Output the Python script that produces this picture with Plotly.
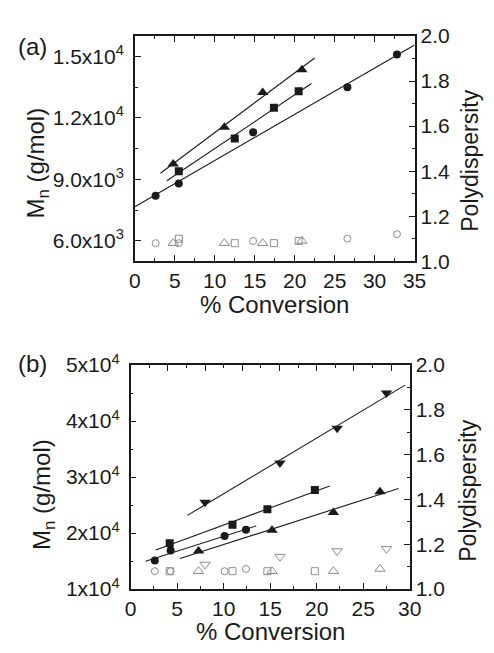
import numpy as np
import plotly.graph_objects as go

# ---------------- Panel (a) data ----------------
a_circ_x = [2.6, 5.5, 14.8, 26.6, 32.8]
a_circ_mn = [8200, 8800, 11300, 13500, 15100]
a_circ_pdi = [1.08, 1.08, 1.09, 1.10, 1.12]
a_circ_fit = [0, 35]

a_sq_x = [5.5, 12.5, 17.4, 20.5]
a_sq_mn = [9400, 11000, 12500, 13300]
a_sq_pdi = [1.10, 1.08, 1.08, 1.09]
a_sq_fit = [4.0, 22.1]

a_tri_x = [4.8, 11.2, 16.0, 20.9]
a_tri_mn = [9750, 11550, 13250, 14350]
a_tri_pdi = [1.08, 1.08, 1.08, 1.09]
a_tri_fit = [3.2, 22.5]

a_ytick_vals = [6000, 9000, 12000, 15000]
a_ytick_text = ["6.0x10<sup>3</sup>", "9.0x10<sup>3</sup>", "1.2x10<sup>4</sup>", "1.5x10<sup>4</sup>"]

# ---------------- Panel (b) data ----------------
b_circ_x = [2.6, 4.3, 10.1, 12.4]
b_circ_mn = [15100, 16900, 19500, 20600]
b_circ_pdi = [1.08, 1.08, 1.08, 1.09]
b_circ_fit = [1.6, 13.5]

b_sq_x = [4.2, 10.95, 14.7, 19.8]
b_sq_mn = [18200, 21500, 24250, 27700]
b_sq_pdi = [1.08, 1.08, 1.08, 1.08]
b_sq_fit = [2.7, 21.4]

b_tri_x = [7.3, 15.2, 21.8, 26.8]
b_tri_mn = [16800, 20500, 23700, 27400]
b_tri_pdi = [1.08, 1.08, 1.08, 1.09]
b_tri_fit = [5.3, 28.8]

b_itri_x = [8.0, 16.05, 22.2, 27.5]
b_itri_mn = [25500, 32500, 38700, 45000]
b_itri_pdi = [1.11, 1.145, 1.17, 1.18]
b_itri_fit = [6.1, 29.5]

b_ytick_vals = [10000, 20000, 30000, 40000, 50000]
b_ytick_text = ["1x10<sup>4</sup>", "2x10<sup>4</sup>", "3x10<sup>4</sup>", "4x10<sup>4</sup>", "5x10<sup>4</sup>"]

pdi_tick_vals = [1.0, 1.2, 1.4, 1.6, 1.8, 2.0]
pdi_tick_text = ["1.0", "1.2", "1.4", "1.6", "1.8", "2.0"]

FONT = "Liberation Sans, Arial, Helvetica, sans-serif"
INK = "#1a1a1a"
OPEN = "#8c8c8c"

fig = go.Figure()


def add_series(x, mn, pdi, fit, sym, size, xa, ymn, ypdi):
    coef = np.polyfit(x, mn, 1)
    fx = np.array(fit, dtype=float)
    fig.add_trace(go.Scatter(x=fx, y=np.polyval(coef, fx), mode="lines",
                             line=dict(color=INK, width=1.1), xaxis=xa, yaxis=ymn,
                             showlegend=False, hoverinfo="skip"))
    fig.add_trace(go.Scatter(x=x, y=mn, mode="markers", xaxis=xa, yaxis=ymn,
                             marker=dict(symbol=sym, size=size, color=INK,
                                         line=dict(width=0)), showlegend=False))
    fig.add_trace(go.Scatter(x=x, y=pdi, mode="markers", xaxis=xa, yaxis=ypdi,
                             marker=dict(symbol=sym + "-open", size=size - 1, color=OPEN,
                                         line=dict(width=1, color=OPEN)), showlegend=False))


add_series(a_circ_x, a_circ_mn, a_circ_pdi, a_circ_fit, "circle", 8, "x", "y", "y2")
add_series(a_sq_x, a_sq_mn, a_sq_pdi, a_sq_fit, "square", 8, "x", "y", "y2")
add_series(a_tri_x, a_tri_mn, a_tri_pdi, a_tri_fit, "triangle-up", 10, "x", "y", "y2")

add_series(b_circ_x, b_circ_mn, b_circ_pdi, b_circ_fit, "circle", 8, "x2", "y3", "y4")
add_series(b_sq_x, b_sq_mn, b_sq_pdi, b_sq_fit, "square", 8, "x2", "y3", "y4")
add_series(b_tri_x, b_tri_mn, b_tri_pdi, b_tri_fit, "triangle-up", 10, "x2", "y3", "y4")
add_series(b_itri_x, b_itri_mn, b_itri_pdi, b_itri_fit, "triangle-down", 10, "x2", "y3", "y4")

# dummy traces so the top (mirror) axes get drawn
fig.add_trace(go.Scatter(x=[None], y=[None], xaxis="x3", yaxis="y", showlegend=False, hoverinfo="skip"))
fig.add_trace(go.Scatter(x=[None], y=[None], xaxis="x4", yaxis="y3", showlegend=False, hoverinfo="skip"))

tickfont = dict(family=FONT, size=21, color=INK)
common = dict(showgrid=False, zeroline=False, showline=True, linecolor=INK, linewidth=1.5,
              ticks="inside", ticklen=6, tickwidth=1.3, tickcolor=INK, tickfont=tickfont)

xa_dom = [0.2707, 0.8583]
ya_dom = [0.6064, 0.9648]
xb_dom = [0.2618, 0.8482]
yb_dom = [0.0842, 0.4410]

fig.update_layout(
    width=494, height=653, margin=dict(l=0, r=0, t=0, b=0),
    paper_bgcolor="white", plot_bgcolor="white", showlegend=False,
    xaxis=dict(domain=xa_dom, anchor="y", range=[0, 35], tickmode="linear", tick0=0, dtick=5,
               minor=dict(dtick=2.5, ticklen=3, tickcolor=INK, ticks="inside"), **common),
    xaxis3=dict(overlaying="x", anchor="y", side="top", range=[0, 35], tickmode="linear", tick0=0, dtick=5,
                showticklabels=False,
                minor=dict(dtick=2.5, ticklen=3, tickcolor=INK, ticks="inside"), **common),
    yaxis=dict(domain=ya_dom, anchor="x", range=[5000, 16000], tickmode="array",
               tickvals=a_ytick_vals, ticktext=a_ytick_text, ticklabelstandoff=5,
               minor=dict(tickmode="linear", tick0=0, dtick=1500, ticklen=3, tickcolor=INK, ticks="inside"),
               **common),
    yaxis2=dict(overlaying="y", anchor="x", side="right", range=[1.0, 2.0], tickmode="array",
                tickvals=pdi_tick_vals, ticktext=pdi_tick_text,
                minor=dict(tickmode="linear", tick0=0, dtick=0.1, ticklen=3, tickcolor=INK, ticks="inside"),
                **common),
    xaxis2=dict(domain=xb_dom, anchor="y3", range=[0, 30], tickmode="linear", tick0=0, dtick=5,
                minor=dict(dtick=2.5, ticklen=3, tickcolor=INK, ticks="inside"), **common),
    xaxis4=dict(overlaying="x2", anchor="y3", side="top", range=[0, 30], tickmode="linear", tick0=0, dtick=4,
                showticklabels=False,
                minor=dict(dtick=2, ticklen=3, tickcolor=INK, ticks="inside"), **common),
    yaxis3=dict(domain=yb_dom, anchor="x2", range=[10000, 50000], tickmode="array",
                tickvals=b_ytick_vals, ticktext=b_ytick_text, ticklabelstandoff=5,
                minor=dict(tickmode="linear", tick0=0, dtick=5000, ticklen=3, tickcolor=INK, ticks="inside"),
                **common),
    yaxis4=dict(overlaying="y3", anchor="x2", side="right", range=[1.0, 2.0], tickmode="array",
                tickvals=pdi_tick_vals, ticktext=pdi_tick_text,
                minor=dict(tickmode="linear", tick0=0, dtick=0.1, ticklen=3, tickcolor=INK, ticks="inside"),
                **common),
)

ann = [
    dict(text="(a)", x=0.022, y=0.949, xanchor="left", yanchor="middle", size=24),
    dict(text="M<sub>n</sub> (g/mol)", x=0.066, y=0.7626, textangle=-90, size=24),
    dict(text="Polydispersity", x=0.975, y=0.7665, textangle=-90, size=23),
    dict(text="% Conversion", x=0.5648, y=0.5368, size=24),
    dict(text="(b)", x=0.020, y=0.444, xanchor="left", yanchor="middle", size=24),
    dict(text="M<sub>n</sub> (g/mol)", x=0.080, y=0.2343, textangle=-90, size=24),
    dict(text="Polydispersity", x=0.970, y=0.2404, textangle=-90, size=23),
    dict(text="% Conversion", x=0.5547, y=0.0168, size=24),
]
for a in ann:
    a.setdefault("xanchor", "center")
    a.setdefault("yanchor", "middle")
    sz = a.pop("size")
    fig.add_annotation(xref="paper", yref="paper", showarrow=False,
                       font=dict(family=FONT, size=sz, color=INK), **a)

fig.write_html("out.html", config={"displayModeBar": False},
               post_script="document.body.style.margin='0';document.body.style.padding='0';")
